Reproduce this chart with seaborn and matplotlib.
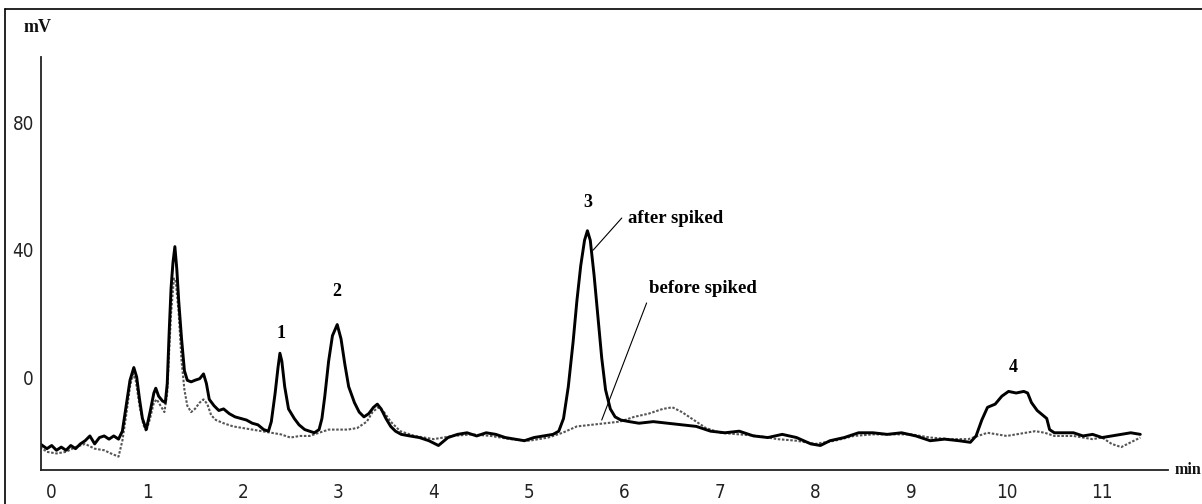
import matplotlib
matplotlib.use("Agg")
import matplotlib.pyplot as plt
from matplotlib import font_manager
from matplotlib.lines import Line2D
import seaborn as sns
import pandas as pd

# ---------------- data ----------------
after_time = [-0.12, -0.05, 0.0, 0.05, 0.1, 0.15, 0.2, 0.25, 0.3, 0.35, 0.4, 0.45, 0.5, 0.55, 0.6, 0.65,
              0.7, 0.74, 0.78, 0.82, 0.86, 0.89, 0.92, 0.95, 0.99, 1.03, 1.07, 1.09, 1.12, 1.16, 1.19,
              1.21, 1.23, 1.25, 1.27, 1.29, 1.31, 1.33, 1.36, 1.39, 1.42, 1.46, 1.5, 1.55, 1.59, 1.62,
              1.65, 1.7, 1.75, 1.8, 1.86, 1.92, 1.98, 2.04, 2.1, 2.16, 2.22, 2.27, 2.3, 2.34, 2.37,
              2.39, 2.41, 2.44, 2.48, 2.54, 2.59, 2.65, 2.7, 2.75, 2.8, 2.83, 2.86, 2.9, 2.94, 2.99,
              3.03, 3.07, 3.11, 3.17, 3.22, 3.27, 3.32, 3.37, 3.41, 3.45, 3.5, 3.55, 3.6, 3.66, 3.75,
              3.85, 3.95, 4.05, 4.15, 4.25, 4.35, 4.45, 4.55, 4.65, 4.75, 4.85, 4.95, 5.05, 5.15, 5.25,
              5.31, 5.36, 5.41, 5.46, 5.5, 5.54, 5.58, 5.61, 5.64, 5.68, 5.72, 5.76, 5.8, 5.85, 5.9,
              5.96, 6.05, 6.15, 6.3, 6.45, 6.6, 6.75, 6.9, 7.05, 7.2, 7.35, 7.5, 7.65, 7.8, 7.95, 8.05,
              8.15, 8.3, 8.45, 8.6, 8.75, 8.9, 9.05, 9.2, 9.35, 9.5, 9.62, 9.68, 9.74, 9.8, 9.88, 9.95,
              10.02, 10.1, 10.18, 10.22, 10.26, 10.32, 10.38, 10.42, 10.45, 10.5, 10.6, 10.7, 10.8,
              10.9, 11.0, 11.1, 11.2, 11.3, 11.4]
after_mv = [-21, -22.5, -21.5, -23, -22, -23, -21.5, -22.5, -21, -20, -18.5, -21, -19, -18.5, -19.5, -18.5,
            -19.5, -17, -9, -1, 3, 0, -7, -13, -16.5, -11, -5, -3.5, -6, -7.5, -8,
            -2, 14, 28, 36, 41, 34, 24, 12, 2, -1, -1.5, -1, -0.5, 1, -2,
            -7, -9, -10.5, -10, -11.5, -12.5, -13, -13.5, -14.5, -15, -16.5, -17, -14, -5, 3,
            7.5, 5, -3, -10, -13, -15, -16.5, -17, -17.5, -16.5, -13, -6, 5, 13, 16.5,
            12, 4, -3, -8, -11, -12.5, -11.5, -9.5, -8.5, -10, -13, -15.5, -17, -18, -18.5,
            -19, -20, -21.5, -19, -18, -17.5, -18.5, -17.5, -18, -19, -19.5, -20, -19, -18.5, -18,
            -17, -13, -3, 11, 24, 35, 43, 46, 43, 32, 19, 6, -4, -10, -12.5,
            -13.5, -14, -14.5, -14, -14.5, -15, -15.5, -17, -17.5, -17, -18.5, -19, -18, -19, -21, -21.5,
            -20, -19, -17.5, -17.5, -18, -17.5, -18.5, -20, -19.5, -20, -20.5, -18.5, -13.5, -9.5, -8.5, -6,
            -4.5, -5, -4.5, -5, -8, -10.5, -12, -13, -16.5, -17.5, -17.5, -17.5, -18.5,
            -18, -19, -18.5, -18, -17.5, -18]

before_time = [-0.12, -0.05, 0.05, 0.15, 0.25, 0.35, 0.45, 0.55, 0.62, 0.7, 0.74, 0.78, 0.82, 0.85, 0.88,
               0.92, 0.96, 0.99, 1.03, 1.07, 1.1, 1.14, 1.18, 1.21, 1.23, 1.25, 1.28, 1.3, 1.33, 1.36,
               1.39, 1.42, 1.46, 1.5, 1.55, 1.59, 1.63, 1.67, 1.72, 1.8, 1.9, 2.0, 2.1, 2.2, 2.3, 2.4,
               2.5, 2.6, 2.7, 2.8, 2.9, 3.0, 3.1, 3.2, 3.3, 3.36, 3.42, 3.48, 3.55, 3.65, 3.8, 4.0,
               4.2, 4.4, 4.6, 4.8, 5.0, 5.2, 5.35, 5.5, 5.65, 5.8, 5.95, 6.1, 6.25, 6.4, 6.5, 6.6,
               6.7, 6.85, 7.0, 7.2, 7.4, 7.6, 7.8, 8.0, 8.2, 8.4, 8.6, 8.8, 9.0, 9.2, 9.4, 9.6, 9.7,
               9.8, 9.9, 10.0, 10.1, 10.2, 10.3, 10.4, 10.5, 10.7, 10.9, 11.0, 11.1, 11.2, 11.3, 11.4]
before_mv = [-22, -23.5, -24, -23.5, -22, -21, -22.5, -23, -24, -25, -20, -12, -3, 1, -1,
             -9, -15, -17, -13, -8, -7, -9, -11, -5, 8, 20, 31, 30, 20, 5,
             -4, -9, -11, -10, -8, -7, -8.5, -12, -13.5, -14.5, -15.5, -16, -16.5, -17, -17.5, -18,
             -19, -18.5, -18.5, -17.5, -16.5, -16.5, -16.5, -16, -14, -11, -9.5, -11, -14, -17, -18.5, -19.5,
             -18.5, -18, -18.5, -19.5, -20, -19, -17.5, -15.5, -15, -14.5, -14, -12.5, -11.5, -10, -9.5, -11,
             -13, -16, -17.5, -18, -18.5, -19.5, -20, -21, -20, -18.5, -18, -18, -18, -19, -19.5, -19.5, -18.5,
             -17.5, -18, -18.5, -18, -17.5, -17, -17.5, -18.5, -18.5, -19.5, -19, -21, -22, -20.5, -19]

x_ticks = [0, 1, 2, 3, 4, 5, 6, 7, 8, 9, 10, 11]
y_ticks = [0, 40, 80]
y_minor = [-20, 20, 60, 100]
peak_labels = ["1", "2", "3", "4"]
peak_pos = [(2.40, 13.8), (2.98, 27.0), (5.61, 55.0), (10.07, 3.1)]

# ---------------- styling ----------------
sns.set_style("white")
avail = {f.name for f in font_manager.fontManager.ttflist}
tick_font = "Liberation Sans Narrow" if "Liberation Sans Narrow" in avail else "DejaVu Sans"
serif_font = "Liberation Serif" if "Liberation Serif" in avail else "DejaVu Serif"
plt.rcParams["font.family"] = [tick_font, "DejaVu Sans"]

W, H = 1202, 504
fig = plt.figure(figsize=(W / 100, H / 100), dpi=100)
ax = fig.add_axes([41 / W, 1 - 470 / H, (1168 - 41) / W, (470 - 57) / H])

df_after = pd.DataFrame({"time": after_time, "mV": after_mv})
df_before = pd.DataFrame({"time": before_time, "mV": before_mv})

sns.lineplot(data=df_before, x="time", y="mV", ax=ax, color="#555555", lw=1.5,
             linestyle=(0, (1.2, 0.8)), estimator=None, sort=False)
sns.lineplot(data=df_after, x="time", y="mV", ax=ax, color="black", lw=2.1,
             estimator=None, sort=False)

ax.set_xlim(-0.112, 11.69)
ax.set_ylim(-29.2, 100.6)
ax.set_xlabel("")
ax.set_ylabel("")

for s in ["top", "right"]:
    ax.spines[s].set_visible(False)
for s in ["left", "bottom"]:
    ax.spines[s].set_color("#222222")
    ax.spines[s].set_linewidth(1.3)

ax.set_xticks(x_ticks)
ax.set_xticks([t + 0.5 for t in x_ticks[:-1]], minor=True)
ax.set_yticks(y_ticks)
ax.set_yticks(y_minor, minor=True)
ax.tick_params(axis="x", which="major", direction="out", length=4, width=1, pad=5,
               labelsize=13.5, colors="#222222")
ax.tick_params(axis="x", which="minor", direction="out", length=1.5, width=1)
ax.tick_params(axis="y", which="major", direction="out", length=4, width=1, pad=1,
               labelsize=13.5, colors="#222222")
ax.tick_params(axis="y", which="minor", direction="out", length=2, width=1)
for lab in ax.get_xticklabels() + ax.get_yticklabels():
    lab.set_fontstretch("condensed")

# peak labels
for lab, (px, py) in zip(peak_labels, peak_pos):
    ax.text(px, py, lab, ha="center", va="center", fontsize=13, fontweight="bold",
            family=[serif_font, "DejaVu Serif"], color="black")

# annotations
ax.text(6.53, 49.7, "after spiked", ha="center", va="center", fontsize=13.5,
        fontweight="bold", family=[serif_font, "DejaVu Serif"], color="black")
ax.plot([5.97, 5.67], [50.0, 39.9], color="black", lw=0.8)
ax.text(6.82, 27.7, "before spiked", ha="center", va="center", fontsize=13.5,
        fontweight="bold", family=[serif_font, "DejaVu Serif"], color="black")
ax.plot([6.23, 5.76], [23.3, -13.5], color="black", lw=0.8)

# unit labels
fig.text(38 / W, 1 - 28 / H, "mV", ha="center", va="center", fontsize=13,
         fontweight="bold", family=[serif_font, "DejaVu Serif"], color="#111111")
fig.text(1175 / W, 1 - 470 / H, "min", ha="left", va="center", fontsize=11.5,
         fontweight="bold", family=[serif_font, "DejaVu Serif"], color="#111111")

# outer frame (top and left edges of the scanned box)
fig.add_artist(Line2D([5 / W, 1], [1 - 9 / H, 1 - 9 / H], transform=fig.transFigure,
                      color="black", lw=1.2))
fig.add_artist(Line2D([5 / W, 5 / W], [0, 1 - 9 / H], transform=fig.transFigure,
                      color="black", lw=1.2))

fig.savefig("out.png", dpi=100)
